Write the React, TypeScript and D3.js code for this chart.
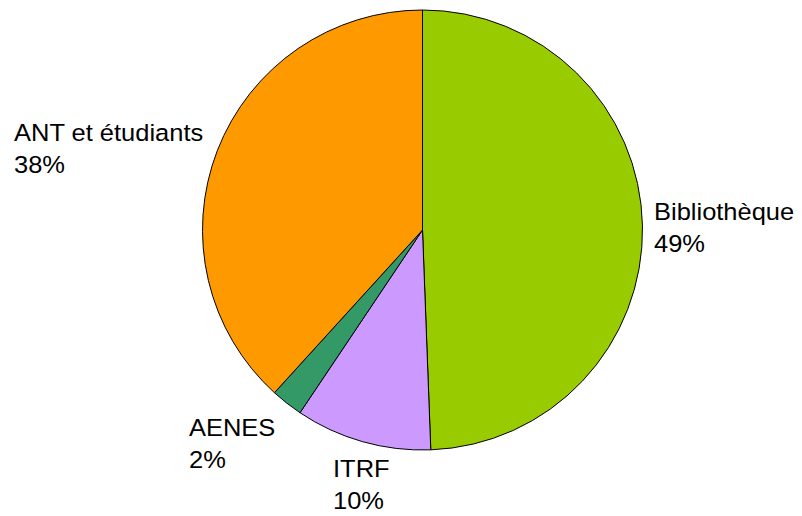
import React from "react";
import * as d3 from "d3";

const categories = ["Bibliothèque", "ITRF", "AENES", "ANT et étudiants"];
const values = [49.4, 10.0, 2.35, 38.25];
const colors = ["#99CC00", "#CC99FF", "#339966", "#FF9900"];

// label text box positions (left x, first baseline y)
const labelPos: Record<string, [number, number]> = {
  "Bibliothèque": [654, 220],
  "ITRF": [333, 477],
  "AENES": [189, 436],
  "ANT et étudiants": [14, 141],
};

const W = 802;
const H = 516;
const cx = 422.5;
const cy = 230;
const R = 220;

export default function App() {
  const total = d3.sum(values);
  const data = categories.map((c, i) => ({ c, v: values[i], color: colors[i] }));
  const pie = d3.pie<any>().value((d) => d.v).sort(null);
  const arcs = pie(data);
  const arc = d3.arc<any>().innerRadius(0).outerRadius(R);
  return (
    <svg
      width={W}
      height={H}
      style={{ position: "absolute", left: 0, top: 0, background: "#fff" }}
      fontFamily="'Liberation Sans', Arial, sans-serif"
    >
      <g transform={`translate(${cx},${cy})`}>
        {arcs.map((a, i) => (
          <path key={i} d={arc(a) as string} fill={a.data.color} stroke="#000" strokeWidth={1} />
        ))}
      </g>
      {data.map((d) => {
        const [x, y] = labelPos[d.c];
        const pct = Math.round((d.v / total) * 100);
        return (
          <g key={d.c} transform={`translate(${x},${y}) scale(1.04,1)`}>
            <text x={0} y={0} fontSize={24.5} fill="#000">
              <tspan x={0} y={0}>{d.c}</tspan>
              <tspan x={0} y={32}>{pct}%</tspan>
            </text>
          </g>
        );
      })}
    </svg>
  );
}
